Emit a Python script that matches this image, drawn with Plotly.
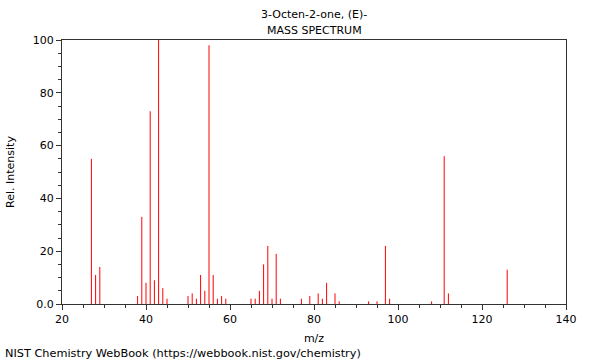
import plotly.graph_objects as go

# Mass spectrum of 3-Octen-2-one, (E)-
mz = [27, 28, 29, 38, 39, 40, 41, 42, 43, 44, 45,
      50, 51, 52, 53, 54, 55, 56, 57, 58, 59,
      65, 66, 67, 68, 69, 70, 71, 72,
      77, 79, 81, 82, 83, 85, 86,
      93, 95, 97, 98, 108, 111, 112, 126]
intensity = [55, 11, 14, 3, 33, 8, 73, 9, 100, 6, 2,
             3, 4, 2, 11, 5, 98, 11, 2, 3, 2,
             2, 2, 5, 15, 22, 2, 19, 2,
             2, 3, 4, 2, 8, 4, 1,
             1, 1, 22, 2, 1, 56, 4, 13]

x_ticks = [20, 40, 60, 80, 100, 120, 140]
y_ticks = [0, 20, 40, 60, 80, 100]
y_ticktext = ["0.0", "20", "40", "60", "80", "100"]

title_line1 = "3-Octen-2-one, (E)-"
title_line2 = "MASS SPECTRUM"
footer = "NIST Chemistry WebBook (https://webbook.nist.gov/chemistry)"

xs, ys = [], []
for m, v in zip(mz, intensity):
    xs += [m, m, None]
    ys += [0, v, None]

FONT = "DejaVu Sans"

fig = go.Figure()
fig.add_trace(go.Scatter(x=xs, y=ys, mode="lines",
                         line=dict(color="#ff0000", width=1),
                         hoverinfo="skip", showlegend=False))

fig.update_layout(
    width=600, height=360,
    margin=dict(l=62, r=34, t=40, b=56, autoexpand=False),
    paper_bgcolor="white", plot_bgcolor="white",
    font=dict(family=FONT, size=11, color="black"),
    showlegend=False,
)

fig.update_xaxes(
    range=[20, 140], tickvals=x_ticks,
    showgrid=False, zeroline=False,
    showline=True, linecolor="#333333", linewidth=1, mirror=True,
    ticks="outside", ticklen=5, tickcolor="#333333",
    minor=dict(dtick=5, tick0=0, ticks="outside", ticklen=3, tickcolor="#333333", showgrid=False),
    tickfont=dict(size=11),
    title=dict(text="m/z", font=dict(size=11), standoff=9),
)
fig.update_yaxes(
    range=[0, 100], tickvals=y_ticks, ticktext=y_ticktext,
    showgrid=False, zeroline=False,
    showline=True, linecolor="#333333", linewidth=1, mirror=True,
    ticks="outside", ticklen=5, tickcolor="#333333",
    minor=dict(dtick=5, tick0=0, ticks="outside", ticklen=3, tickcolor="#333333", showgrid=False),
    tickfont=dict(size=11),
    title=dict(text="Rel. Intensity", font=dict(size=11), standoff=15),
)

fig.add_annotation(text=title_line1, xref="paper", yref="paper",
                   x=0.5, y=1 + (40 - 15) / 264, xanchor="center", yanchor="middle",
                   showarrow=False, font=dict(size=11))
fig.add_annotation(text=title_line2, xref="paper", yref="paper",
                   x=0.5, y=1 + (40 - 30) / 264, xanchor="center", yanchor="middle",
                   showarrow=False, font=dict(size=11))
fig.add_annotation(text=footer, xref="paper", yref="paper",
                   x=(3 - 62) / 504, y=-(353 - 304) / 264, xanchor="left", yanchor="middle",
                   showarrow=False, font=dict(size=11.3))

fig.write_html("out.html", config={"displayModeBar": False},
               post_script="document.body.style.margin='0';")
